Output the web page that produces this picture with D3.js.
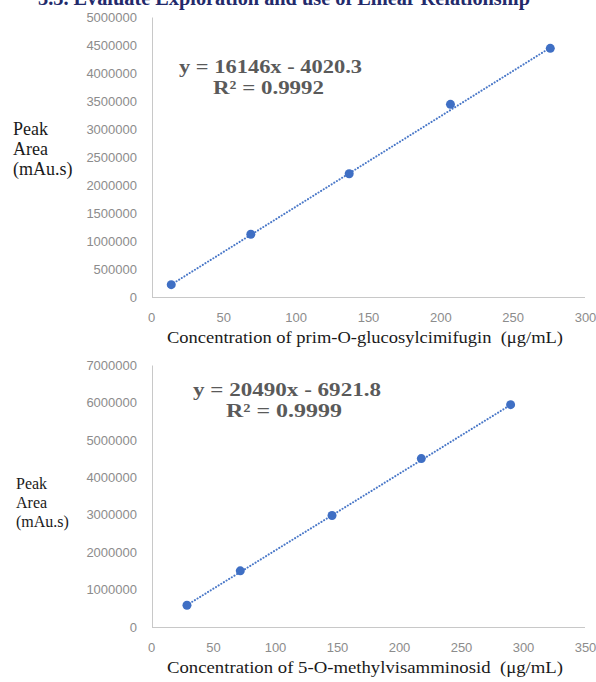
<!DOCTYPE html>
<html>
<head>
<meta charset="utf-8">
<script src="https://cdn.jsdelivr.net/npm/d3@7"></script>
<style>
  body { margin: 0; background: #fff; }
  svg { display: block; }
</style>
</head>
<body>
<div id="graph"></div>
<script>
// calibration data
var conc1 = [14, 69, 137, 207, 276],
    area1 = [220000, 1120000, 2200000, 3440000, 4440000],
    conc2 = [29, 72, 146, 218, 290],
    area2 = [580000, 1500000, 2980000, 4500000, 5940000];

var fit1 = [16146, -4020.3],
    fit2 = [20490, -6921.8];

var xTicks1 = [0, 50, 100, 150, 200, 250, 300],
    yTicks1 = [0, 500000, 1000000, 1500000, 2000000, 2500000, 3000000, 3500000, 4000000, 4500000, 5000000],
    xTicks2 = [0, 50, 100, 150, 200, 250, 300, 350],
    yTicks2 = [0, 1000000, 2000000, 3000000, 4000000, 5000000, 6000000, 7000000];

var w = 596, h = 682,
    blue = "#3f6fc4";

var svg = d3.select("#graph")
            .append("svg")
            .attr("width", w)
            .attr("height", h);

// clipped heading at the top of the page
svg.append("text")
  .text("3.3. Evaluate Exploration and use of Linear Relationship")
  .attr("x", 38)
  .attr("y", 5)
  .attr("textLength", 492)
  .attr("lengthAdjust", "spacingAndGlyphs")
  .attr("font-family", "Liberation Serif, serif")
  .attr("font-weight", "bold")
  .attr("font-size", 22)
  .attr("fill", "#232a6b");

function drawChart(opt) {
  var g = svg.append("g");
  var x = d3.scaleLinear().domain(opt.xDomain).range([151, 585]);
  var y = d3.scaleLinear().domain(opt.yDomain).range(opt.yRange);

  var yAxis = g.append("g")
    .attr("transform", "translate(152,0)")
    .call(d3.axisLeft(y).tickValues(opt.yTicks).tickSize(0).tickPadding(15).tickFormat(d3.format("d")));
  var xAxis = g.append("g")
    .attr("transform", "translate(0," + opt.yRange[0] + ")")
    .call(d3.axisBottom(x).tickValues(opt.xTicks).tickSize(0).tickPadding(16));

  [yAxis, xAxis].forEach(function (a) {
    a.select(".domain").attr("stroke", "#c8c8c8");
    a.selectAll("text")
      .attr("fill", "#8c8c8c")
      .attr("font-family", "Liberation Sans, Arial, sans-serif")
      .attr("font-size", 13);
  });
  xAxis.select(".domain").attr("d", "M152,0.5H585");

  // dotted trendline between first and last concentration
  var x0 = d3.min(opt.xs), x1 = d3.max(opt.xs);
  var fitLine = d3.line()
    .x(function (d) { return x(d); })
    .y(function (d) { return y(opt.fit[0] * d + opt.fit[1]); });
  g.append("path")
    .datum([x0, x1])
    .attr("d", fitLine)
    .attr("fill", "none")
    .attr("stroke", "#4a78c8")
    .attr("stroke-width", 2)
    .attr("stroke-linecap", "round")
    .attr("stroke-dasharray", "0.1,3");

  g.selectAll("circle")
    .data(opt.xs)
    .enter()
    .append("circle")
    .attr("cx", function (d) { return x(d); })
    .attr("cy", function (d, i) { return y(opt.ys[i]); })
    .attr("r", 4.5)
    .attr("fill", blue);

  // equation + R²
  g.append("text")
    .text(opt.eq)
    .attr("x", opt.eqX)
    .attr("y", opt.eqY)
    .attr("textLength", opt.eqW)
    .attr("lengthAdjust", "spacingAndGlyphs")
    .attr("font-family", "Liberation Serif, serif")
    .attr("font-weight", "bold")
    .attr("font-size", 19)
    .attr("fill", "#5a5a5a");
  g.append("text")
    .text(opt.r2)
    .attr("x", opt.r2X)
    .attr("y", opt.eqY + 21)
    .attr("textLength", opt.r2W)
    .attr("lengthAdjust", "spacingAndGlyphs")
    .attr("font-family", "Liberation Serif, serif")
    .attr("font-weight", "bold")
    .attr("font-size", 19)
    .attr("fill", "#5a5a5a");

  // y title, three lines
  ["Peak", "Area", "(mAu.s)"].forEach(function (t, i) {
    g.append("text")
      .text(t)
      .attr("x", opt.ytX)
      .attr("y", opt.ytY + i * opt.ytGap)
      .attr("font-family", "Liberation Serif, serif")
      .attr("font-size", opt.ytSize)
      .attr("fill", "#1a1a1a");
  });

  // x title
  g.append("text")
    .text(opt.xTitle)
    .attr("x", 167)
    .attr("y", opt.xtY)
    .attr("textLength", 396)
    .attr("lengthAdjust", "spacingAndGlyphs")
    .style("white-space", "pre")
    .attr("font-family", "Liberation Serif, serif")
    .attr("font-size", 17)
    .attr("fill", "#1a1a1a");
}

drawChart({
  xs: conc1, ys: area1, fit: fit1,
  xDomain: [0, 300], yDomain: [0, 5000000], yRange: [297, 17],
  xTicks: xTicks1, yTicks: yTicks1,
  eq: "y = 16146x - 4020.3", eqX: 179, eqY: 73, eqW: 183,
  r2: "R² = 0.9992", r2X: 213, r2W: 111,
  ytX: 13, ytY: 135, ytGap: 20, ytSize: 18,
  xTitle: "Concentration of prim-O-glucosylcimifugin  (μg/mL)", xtY: 343
});

drawChart({
  xs: conc2, ys: area2, fit: fit2,
  xDomain: [0, 350], yDomain: [0, 7000000], yRange: [627, 365],
  xTicks: xTicks2, yTicks: yTicks2,
  eq: "y = 20490x - 6921.8", eqX: 193, eqY: 396, eqW: 188,
  r2: "R² = 0.9999", r2X: 226, r2W: 116,
  ytX: 16, ytY: 489, ytGap: 19, ytSize: 16,
  xTitle: "Concentration of 5-O-methylvisamminosid  (μg/mL)", xtY: 673
});
</script>
</body>
</html>
